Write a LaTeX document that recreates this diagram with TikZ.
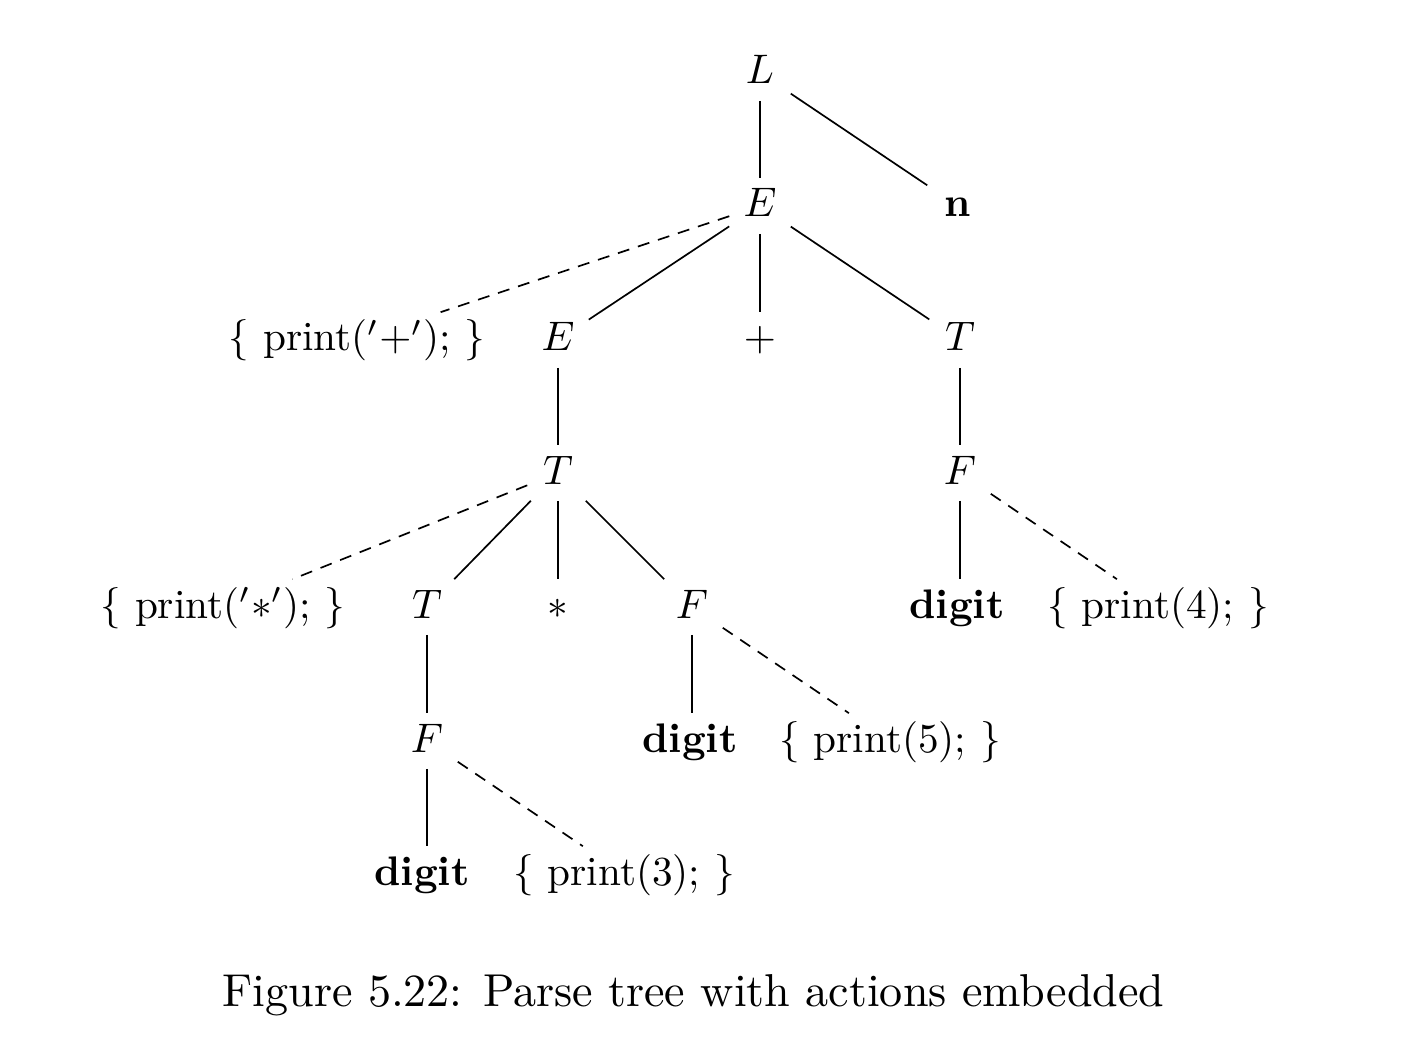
\documentclass[tikz,border=0pt]{standalone}
\begin{document}
\begin{tikzpicture}[x=0.24213pt,y=-0.24213pt,
  treefont/.style={font=\fontsize{10pt}{12pt}\selectfont},
  sym/.style={treefont, anchor=base, inner xsep=0pt, inner ysep=0.97pt,
    text height=8.23pt, text depth=2.9pt, minimum width=14.5pt},
  act/.style={treefont, anchor=base, inner xsep=0pt, inner ysep=0.97pt,
    text height=8.23pt, text depth=2.9pt},
  edge/.style={line width=0.41pt},
  actedge/.style={line width=0.41pt, dash pattern=on 2.9pt off 2.2pt}]
\useasboundingbox (0,0) rectangle (1428,1058);
% row 1
\node[sym] (L) at (760,84) {$L$};
% row 2
\node[sym] (E) at (760,217) {$E$};
\node[sym] (n) at (958,217) {\textbf{n}};
% row 3
\node[act] (p1) at (357,351) {\{ print($'+'$); \}};
\node[sym] (E2) at (558,351) {$E$};
\node[sym] (plus) at (760,351) {$+$};
\node[sym] (T) at (960,351) {$T$};
% row 4
\node[sym] (T2) at (558,484) {$T$};
\node[sym] (F) at (960,484) {$F$};
% row 5
\node[act] (p2) at (223,618) {\{ print($'*'$); \}};
\node[sym] (T3) at (427,618) {$T$};
\node[sym] (star) at (558,618) {$*$};
\node[sym] (F2) at (692,618) {$F$};
\node[act] (d1) at (957,618) {\textbf{digit}};
\node[act] (p4) at (1158,618) {\{ print(4); \}};
% row 6
\node[sym] (F3) at (427,752) {$F$};
\node[act] (d2) at (690,752) {\textbf{digit}};
\node[act] (p5) at (890,752) {\{ print(5); \}};
% row 7
\node[act] (d3) at (422,885) {\textbf{digit}};
\node[act] (p3) at (624,885) {\{ print(3); \}};
% caption
\node[anchor=base, inner sep=0pt, font=\fontsize{10pt}{12pt}\selectfont, scale=1.116, transform shape] (cap) at (693.5,1006) {Figure 5.22: Parse tree with actions embedded};
% edges
\draw[edge] (L) -- (E);
\draw[edge] (L) -- (n);
\draw[actedge] (E) -- (p1);
\draw[edge] (E) -- (E2);
\draw[edge] (E) -- (plus);
\draw[edge] (E) -- (T);
\draw[edge] (E2) -- (T2);
\draw[edge] (T) -- (F);
\draw[actedge] (T2) -- (p2);
\draw[edge] (T2) -- (T3);
\draw[edge] (T2) -- (star);
\draw[edge] (T2) -- (F2);
\draw[edge] (F) -- (F |- d1.north);
\draw[actedge] (F) -- (p4);
\draw[edge] (T3) -- (F3);
\draw[edge] (F2) -- (F2 |- d2.north);
\draw[actedge] (F2) -- (p5);
\draw[edge] (F3) -- (F3 |- d3.north);
\draw[actedge] (F3) -- (p3);
\end{tikzpicture}
\end{document}
